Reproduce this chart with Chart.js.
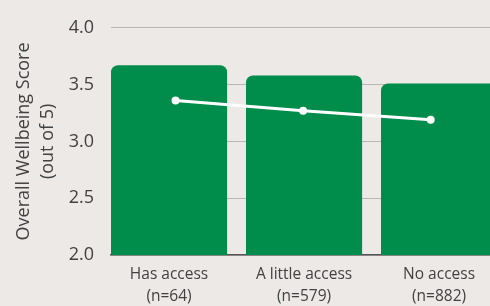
<!DOCTYPE html>
<html lang="en">
<head>
  <meta charset="UTF-8">
  <title>Overall Wellbeing Score by access</title>
  <script src="https://cdn.jsdelivr.net/npm/chart.js"></script>
  <style>
    body {
      margin: 0;
      padding: 0;
      background-color: #ece9e6;
      overflow: hidden;
    }
    #wrap {
      width: 490px;
      height: 306px;
      overflow: hidden;
    }
  </style>
</head>
<body>
  <div id="wrap">
    <canvas id="chart" width="520" height="306"></canvas>
  </div>
  <script>
    const categories = ["Has access", "A little access", "No access"];
    const sampleSizes = ["(n=64)", "(n=579)", "(n=882)"];
    const barScores = [3.67, 3.58, 3.51];
    const lineScores = [3.36, 3.27, 3.19];
    const yTicks = [2.0, 2.5, 3.0, 3.5, 4.0];

    const green = "#008c4b";
    const textColor = "#424242";

    const ctx = document.getElementById("chart").getContext("2d");
    new Chart(ctx, {
      type: "bar",
      data: {
        datasets: [
          {
            type: "line",
            data: lineScores.map((v, i) => ({ x: i, y: v })),
            xAxisID: "x2",
            borderColor: "#ffffff",
            backgroundColor: "#ffffff",
            borderWidth: 3,
            pointRadius: 4,
            pointBorderWidth: 0,
            tension: 0,
            order: 0,
          },
          {
            type: "bar",
            data: barScores.map((v, i) => ({ x: i, y: v })),
            xAxisID: "x",
            backgroundColor: green,
            borderRadius: { topLeft: 7, topRight: 7 },
            borderSkipped: "start",
            grouped: false,
            categoryPercentage: 1,
            barPercentage: 0.86,
            order: 1,
          },
        ],
      },
      options: {
        responsive: false,
        animation: false,
        layout: { padding: { left: 0, right: 1, top: 24, bottom: 0 } },
        plugins: {
          legend: { display: false },
          tooltip: { enabled: false },
        },
        scales: {
          x: {
            type: "linear",
            offset: false,
            min: -0.43,
            max: 2.57,
            grid: { display: false, drawTicks: false, offset: false },
            border: { display: true, color: "#555555", width: 1.5 },
            afterBuildTicks: (axis) => {
              axis.ticks = categories.map((c, i) => ({ value: i }));
            },
            afterFit: (axis) => {
              axis.height = 51;
            },
            ticks: {
              autoSkip: false,
              maxRotation: 0,
              padding: 9,
              color: textColor,
              font: { family: "'Open Sans'", size: 15.5, lineHeight: 1.42 },
              callback: (value, index) => [categories[index], sampleSizes[index]],
            },
          },
          x2: {
            type: "linear",
            display: false,
            offset: false,
            min: -0.506,
            max: 2.669,
          },
          y: {
            min: 2,
            max: 4,
            afterBuildTicks: (axis) => {
              axis.ticks = yTicks.map((v) => ({ value: v }));
            },
            afterFit: (axis) => {
              axis.width = 111;
            },
            grid: { color: "#b9b7b4", lineWidth: 1, drawTicks: false },
            border: { display: false },
            ticks: {
              padding: 17,
              color: textColor,
              font: { family: "'Open Sans'", size: 18 },
              callback: (value) => value.toFixed(1),
            },
            title: {
              display: true,
              text: ["Overall Wellbeing Score", "(out of 5)"],
              color: textColor,
              font: { family: "'Open Sans'", size: 18, lineHeight: 1.35 },
              padding: { top: 11.7, bottom: 0 },
            },
          },
        },
      },
    });
  </script>
</body>
</html>
